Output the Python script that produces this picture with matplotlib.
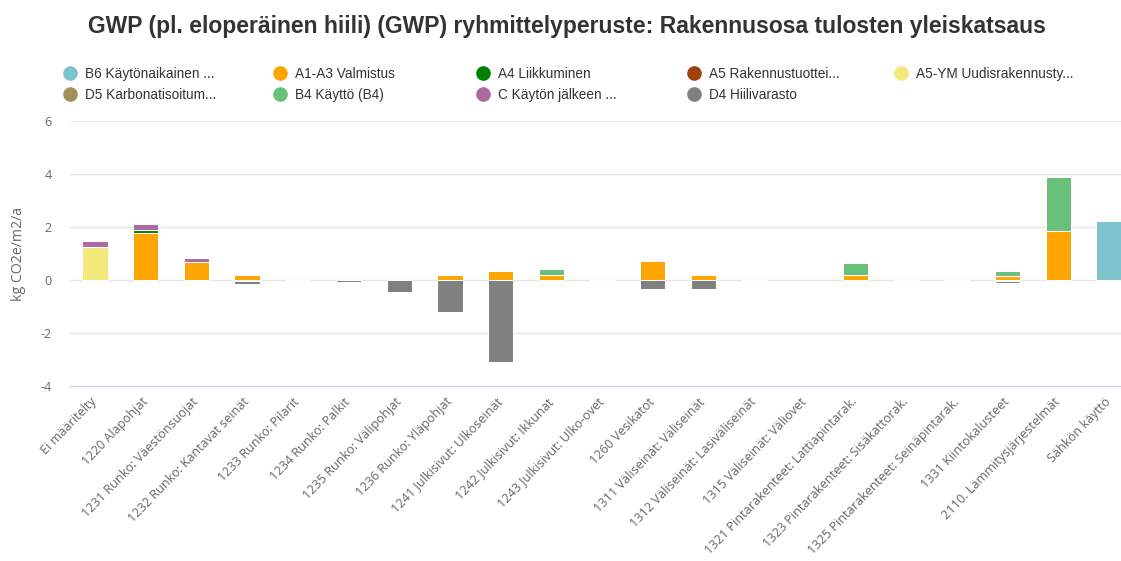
import numpy as np
import matplotlib.pyplot as plt
from matplotlib.lines import Line2D

nan = np.nan

TITLE = "GWP (pl. eloperäinen hiili) (GWP) ryhmittelyperuste: Rakennusosa tulosten yleiskatsaus"
Y_LABEL = "kg CO2e/m2/a"

categories = [
    "Ei määritelty", "1220 Alapohjat", "1231 Runko: Väestönsuojat",
    "1232 Runko: Kantavat seinät", "1233 Runko: Pilarit", "1234 Runko: Palkit",
    "1235 Runko: Välipohjat", "1236 Runko: Yläpohjat", "1241 Julkisivut: Ulkoseinät",
    "1242 Julkisivut: Ikkunat", "1243 Julkisivut: Ulko-ovet", "1260 Vesikatot",
    "1311 Väliseinät: Väliseinät", "1312 Väliseinät: Lasiväliseinät",
    "1315 Väliseinät: Väliovet", "1321 Pintarakenteet: Lattiapintarak.",
    "1323 Pintarakenteet: Sisäkattorak.", "1325 Pintarakenteet: Seinäpintarak.",
    "1331 Kiintokalusteet", "2110. Lämmitysjärjestelmät", "Sähkön käyttö",
]

# one value per category, nan = no bar
b6 = [nan] * 20 + [2.24]
a1_a3 = [nan, 1.76, 0.68, 0.19, nan, nan, nan, 0.20, 0.33, 0.18, nan, 0.72,
         0.20, nan, nan, 0.18, nan, nan, 0.14, 1.85, nan]
a4 = [nan, 0.14] + [nan] * 19
a5 = [nan] * 21
a5_ym = [1.25] + [nan] * 20
d5 = [nan, nan, nan, -0.04, nan, nan, nan, nan, nan, nan, nan, nan,
      nan, nan, nan, nan, nan, nan, -0.03, nan, nan]
b4 = [nan, nan, nan, nan, nan, nan, nan, nan, nan, 0.22, nan, nan,
      nan, nan, nan, 0.45, nan, nan, 0.21, 2.05, nan]
c = [0.21, 0.21, 0.14] + [nan] * 18
d4 = [nan, nan, nan, -0.12, 0.0, -0.06, -0.46, -1.20, -3.10, nan, 0.0, -0.33,
      -0.33, 0.0, nan, nan, 0.0, 0.0, -0.07, nan, nan]

series = [
    ("B6 Käytönaikainen ...", "#7cc3cc", b6),
    ("A1-A3 Valmistus", "#ffa500", a1_a3),
    ("A4 Liikkuminen", "#008000", a4),
    ("A5 Rakennustuottei...", "#a0410d", a5),
    ("A5-YM Uudisrakennusty...", "#f2e87c", a5_ym),
    ("D5 Karbonatisoitum...", "#a09357", d5),
    ("B4 Käyttö (B4)", "#68c07a", b4),
    ("C Käytön jälkeen ...", "#ad6aa0", c),
    ("D4 Hiilivarasto", "#808080", d4),
]

y_ticks = [-4, -2, 0, 2, 4, 6]
y_tick_labels = ["-4", "-2", "0", "2", "4", "6"]

W, H = 1121, 561
fig = plt.figure(figsize=(W / 100, H / 100), dpi=100)
fig.patch.set_facecolor("white")

ax = fig.add_axes([69.65 / W, (H - 386) / H, (W - 69.65) / W, 265 / H])

x = np.arange(len(categories))
pos = np.zeros(len(categories))
neg = np.zeros(len(categories))
for name, color, vals in series:
    v = np.array(vals, dtype=float)
    bottom = np.where(v >= 0, pos, neg)
    ax.bar(x, v, 0.5, bottom=bottom, color=color, edgecolor="white",
           linewidth=0.75, zorder=3)
    vv = np.nan_to_num(v)
    pos += np.where(vv > 0, vv, 0)
    neg += np.where(vv < 0, vv, 0)

ax.set_xlim(-0.5, 20.237)
ax.set_ylim(-4, 6)
ax.set_yticks(y_ticks)
ax.set_yticklabels(y_tick_labels, fontfamily="Open Sans", fontsize=9, color="#666666")
ax.tick_params(axis="y", length=0, pad=13)
ax.set_xticks(x)
ax.set_xticklabels(categories, rotation=46, ha="right", va="center",
                   rotation_mode="anchor", fontfamily="Open Sans",
                   fontsize=9.1, color="#666666")
ax.tick_params(axis="x", length=0, pad=10)

ax.yaxis.grid(True, color="#e6e6e6", linewidth=1, zorder=0)
ax.set_axisbelow(True)
for side in ["top", "right", "left"]:
    ax.spines[side].set_visible(False)
ax.spines["bottom"].set_color("#ccd6eb")
ax.spines["bottom"].set_linewidth(1)

ax.set_ylabel(Y_LABEL, fontfamily="Open Sans", fontsize=10.2, color="#666666")
ax.yaxis.set_label_coords((26 - 69.65) / (W - 69.65), 0.5)

fig.text(567 / W, 1 - 26 / H, TITLE, ha="center", va="center",
         fontfamily="Liberation Sans", fontweight="bold", fontsize=16.5,
         color="#333333")

# legend, laid out row by row in five columns
col_x = [70, 280, 483, 694, 901]
for i, cx in enumerate(col_x):
    items = [series[i]]
    if i + 5 < len(series):
        items.append(series[i + 5])
    handles = [Line2D([], [], linestyle="none", marker="o", markersize=9.5,
                      markerfacecolor=col, markeredgecolor=col)
               for _, col, _ in items]
    labels = [name for name, _, _ in items]
    leg = fig.legend(handles, labels, loc="upper left",
                     bbox_to_anchor=((cx - 6.5) / W, 1 - 67 / H),
                     frameon=False, borderpad=0, borderaxespad=0,
                     handlelength=1.0, handletextpad=0.55, labelspacing=0.5,
                     prop={"family": "Liberation Sans", "size": 9.8})
    for t in leg.get_texts():
        t.set_color("#333333")

fig.savefig("out.png", dpi=100)
